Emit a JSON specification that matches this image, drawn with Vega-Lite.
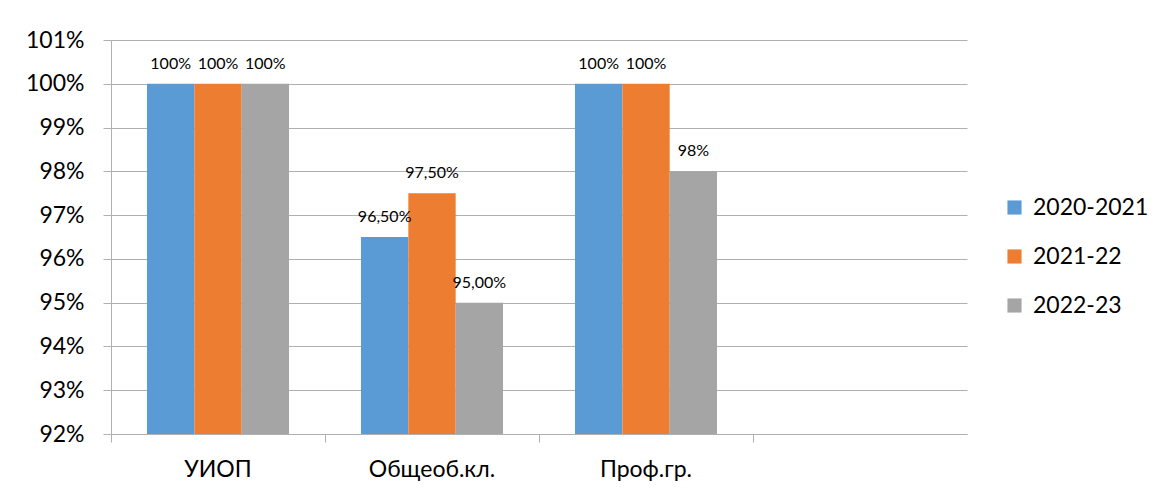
{
  "$schema": "https://vega.github.io/schema/vega-lite/v6.json",
  "width": 856,
  "height": 394,
  "autosize": {"type": "none"},
  "padding": {"left": 111, "top": 40, "right": 193, "bottom": 62},
  "background": "white",
  "data": {
    "values": [
      {"cat": "УИОП", "year": "2020-2021", "value": 100, "label": "100%"},
      {"cat": "УИОП", "year": "2021-22", "value": 100, "label": "100%"},
      {"cat": "УИОП", "year": "2022-23", "value": 100, "label": "100%"},
      {"cat": "Общеоб.кл.", "year": "2020-2021", "value": 96.5, "label": "96,50%"},
      {"cat": "Общеоб.кл.", "year": "2021-22", "value": 97.5, "label": "97,50%"},
      {"cat": "Общеоб.кл.", "year": "2022-23", "value": 95, "label": "95,00%"},
      {"cat": "Проф.гр.", "year": "2020-2021", "value": 100, "label": "100%"},
      {"cat": "Проф.гр.", "year": "2021-22", "value": 100, "label": "100%"},
      {"cat": "Проф.гр.", "year": "2022-23", "value": 98, "label": "98%"}
    ]
  },
  "encoding": {
    "x": {
      "field": "cat",
      "type": "nominal",
      "scale": {"domain": ["УИОП", "Общеоб.кл.", "Проф.гр.", " "], "paddingInner": 0, "paddingOuter": 0},
      "axis": {
        "title": null,
        "labelAngle": 0,
        "labelFont": "Lato",
        "labelFontSize": 23,
        "labelColor": "#000000",
        "tickSize": 8,
        "tickColor": "#b0b0b0",
        "domainColor": "#b0b0b0",
        "bandPosition": 0,
        "labelPadding": 16,
        "grid": false
      }
    },
    "xOffset": {
      "field": "year",
      "type": "nominal",
      "scale": {"paddingInner": 0, "paddingOuter": 0.76}
    },
    "y": {
      "field": "value",
      "type": "quantitative",
      "scale": {"domain": [92, 101], "zero": false, "nice": false},
      "axis": {
        "title": null,
        "values": [92, 93, 94, 95, 96, 97, 98, 99, 100, 101],
        "labelExpr": "datum.value + '%'",
        "labelFont": "Lato",
        "labelFontSize": 23,
        "labelColor": "#000000",
        "tickSize": 8,
        "tickColor": "#b0b0b0",
        "domainColor": "#b0b0b0",
        "gridColor": "#b0b0b0",
        "labelPadding": 19,
        "grid": true
      }
    }
  },
  "layer": [
    {
      "mark": {"type": "bar"},
      "encoding": {
        "y2": {"datum": 92},
        "color": {
          "field": "year",
          "type": "nominal",
          "scale": {"domain": ["2020-2021", "2021-22", "2022-23"], "range": ["#5B9BD5", "#ED7D31", "#A5A5A5"]},
          "legend": {
            "title": null,
            "orient": "none",
            "legendX": 892,
            "legendY": 156,
            "symbolType": "square",
            "symbolSize": 200,
            "symbolStrokeWidth": 0,
            "labelFont": "Lato",
            "labelFontSize": 23,
            "labelColor": "#000000",
            "labelOffset": 7,
            "rowPadding": 25,
            "padding": 0
          }
        }
      }
    },
    {
      "mark": {"type": "text", "baseline": "alphabetic", "dy": -15, "font": "Lato", "fontSize": 16, "color": "#000000"},
      "encoding": {"text": {"field": "label"}}
    }
  ],
  "config": {"view": {"stroke": null}}
}
